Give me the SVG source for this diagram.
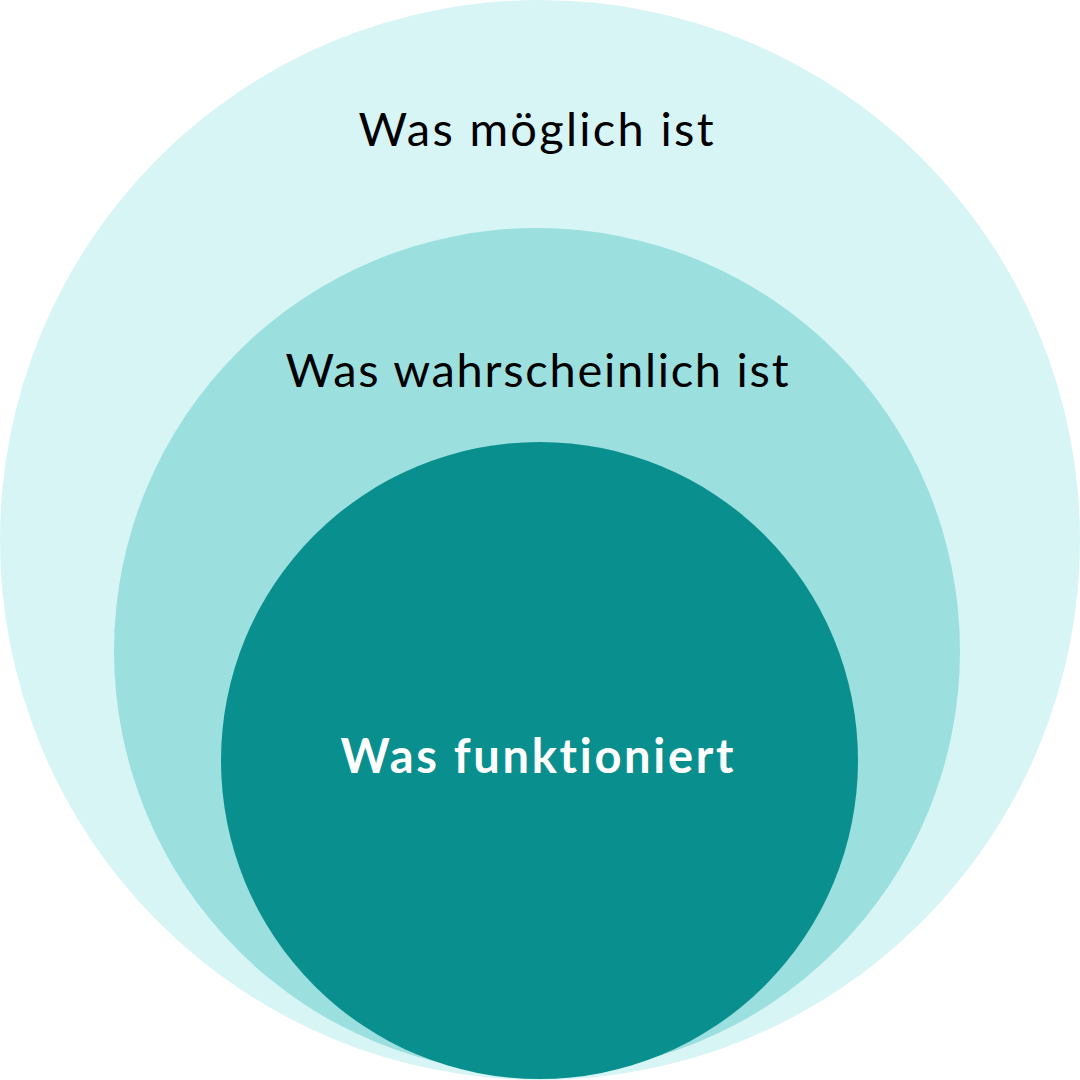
<svg xmlns="http://www.w3.org/2000/svg" width="1080" height="1080" viewBox="0 0 1080 1080">
<style>
.lbl{font-family:Lato,"Noto Sans","Liberation Sans",sans-serif;font-size:47px;text-anchor:middle;fill:#000;font-variant-ligatures:none;font-feature-settings:"liga" 0,"clig" 0}
.bold{font-weight:700;fill:#fff}
</style>
<rect width="1080" height="1080" fill="#fff"/>
<g id="moeglich">
<circle cx="540" cy="540" r="540" fill="#D7F5F5"/>
<text class="lbl" x="536" y="146" textLength="355">Was möglich ist</text>
</g>
<g id="wahrscheinlich">
<circle cx="537" cy="651" r="423" fill="#9CDFDF"/>
<text class="lbl" x="537" y="387" textLength="503">Was wahrscheinlich ist</text>
</g>
<g id="funktioniert">
<circle cx="539.5" cy="760.5" r="318.5" fill="#0A8F8F"/>
<text class="lbl bold" x="537" y="773" textLength="393">Was funktioniert</text>
</g>
<g id="connectors"/>
</svg>
